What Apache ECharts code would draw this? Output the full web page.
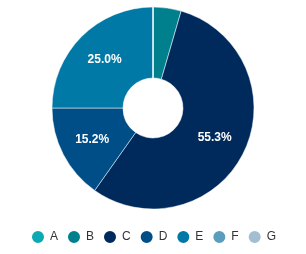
<!DOCTYPE html>
<html>
<head>
<meta charset="utf-8">
<script src="https://cdn.jsdelivr.net/npm/echarts@6/dist/echarts.min.js"></script>
<style>
  html, body { margin: 0; padding: 0; background: #fff; }
  #chart { width: 306px; height: 254px; }
</style>
</head>
<body>
<div id="chart"></div>
<script>
// slice names and percentages
const categories = ['A', 'B', 'C', 'D', 'E', 'F', 'G']
const values = [0, 4.5, 55.3, 15.2, 25.0, 0, 0]
const colors = ['#0aa9b3', '#00808d', '#002a5c', '#004e88', '#0079a7', '#5b9dbf', '#a1bed2']

let chart = echarts.init(document.getElementById('chart'))

chart.setOption({
    color: colors,
    animation: false,
    legend: {
        bottom: 4,
        left: 'center',
        icon: 'circle',
        itemWidth: 14,
        itemHeight: 14,
        itemGap: 8,
        textStyle: {
            fontFamily: 'Liberation Sans, Arial, sans-serif',
            fontSize: 12,
            color: '#333'
        },
        data: categories
    },
    series: [
        {
            type: 'pie',
            center: [153, 108],
            radius: [30, 101],
            startAngle: 90,
            clockwise: true,
            avoidLabelOverlap: false,
            itemStyle: {
                borderColor: '#fff',
                borderWidth: 0.5
            },
            label: {
                show: true,
                position: 'inside',
                color: '#fff',
                fontWeight: 'bold',
                fontSize: 12,
                fontFamily: 'Liberation Sans, Arial, sans-serif',
                // 小块不显示标签
                formatter(p) {
                    return p.value >= 10 ? p.value.toFixed(1) + '%' : ''
                }
            },
            labelLine: {show: false},
            data: categories.map((c, i) => ({name: c, value: values[i]}))
        }
    ]
})
</script>
</body>
</html>
